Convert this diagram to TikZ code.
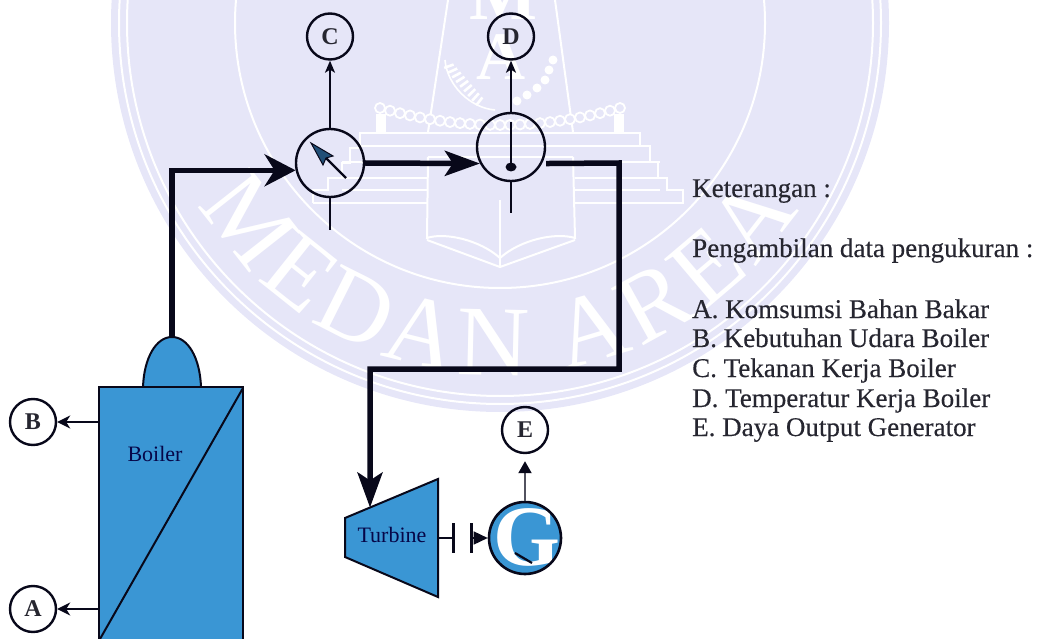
\documentclass[tikz,border=0pt]{standalone}
\usepackage{fontspec}
\setmainfont{Liberation Serif}
\newfontfamily\heavyserif[FakeBold=0.35]{Liberation Serif}
\usetikzlibrary{arrows.meta,calc,decorations.text}
\definecolor{wm}{HTML}{E6E6F8}
\definecolor{blue1}{HTML}{3A96D4}
\definecolor{ink}{HTML}{08081A}
\definecolor{txt}{HTML}{262630}
\newcommand{\fs}[1]{\fontsize{#1}{#1}\selectfont}
\tikzset{
  wmline/.style={draw=white,line width=2pt},
  bead/.style={draw=white,line width=1.8pt,fill=wm},
  pipe/.style={draw=ink,line width=5.5pt,line join=miter},
  pipeheadA/.style={-{Stealth[length=31pt,width=32pt,inset=10pt]}},
  pipeheadB/.style={-{Stealth[length=35pt,width=25pt,inset=8pt]}},
  sig/.style={draw=ink,line width=1.6pt,-{Stealth[length=12pt,width=10pt,inset=3pt]}},
  sigside/.style={draw=ink,line width=1.8pt,-{Stealth[length=13pt,width=13pt,inset=4pt]}},
  stem/.style={draw=ink,line width=2.6pt},
  tag/.style={circle,draw=ink,line width=2.4pt,minimum size=46pt,inner sep=0pt,font=\fs{24}\bfseries,text=txt},
  gauge/.style={circle,draw=ink,line width=2.4pt,minimum size=68pt,inner sep=0pt},
  equip/.style={draw=ink,line width=2pt,fill=blue1},
  eqlabel/.style={font=\fs{22},text=ink!80!blue,inner sep=0pt},
  legend/.style={anchor=base west,font=\heavyserif\fs{27},text=txt,inner sep=0pt},
}
\begin{document}
\begin{tikzpicture}[x=1pt,y=1pt]
\useasboundingbox (0,-639) rectangle (1044,0);
% watermark
\begin{scope}
\clip (0,-639) rectangle (1044,0);
\coordinate (wc) at (500,-23);
\fill[wm] (wc) circle (389pt);
\draw[wmline] (wc) circle (381pt);
\draw[wmline] (wc) circle (373pt);
\draw[wmline] (wc) circle (265pt);
\path[decorate,decoration={text along path,text align={fit to path},
  text={|\color{white}\fs{100}|MEDAN AREA}}]
  (wc) ++(211:352pt) arc[start angle=211,end angle=328,radius=352pt];
\node[text=white,font=\fs{72}\bfseries,inner sep=0pt,anchor=base] (wmM) at (503,-20) {M};
\node[text=white,font=\fs{68}\bfseries,inner sep=0pt,anchor=base] (wmA) at (501,-80) {A};
\draw[wmline] (448,0) -- (428,-132);
\draw[wmline] (555,0) -- (573,-132);
\foreach \i in {-12,...,12}{
  \pgfmathsetmacro{\bx}{500+10*\i}
  \pgfmathsetmacro{\by}{-(108+17*(1-(\i/12)^2))}
  \draw[bead] (\bx,\by) circle (5pt);
}
\fill[white] (376,-114) rectangle (386,-133);
\fill[white] (614,-114) rectangle (624,-133);
\draw[wmline] (313,-203) -- (313,-190) -- (328,-190) -- (328,-178) -- (342,-178) -- (342,-163) -- (350,-163) -- (350,-148) -- (360,-148) -- (360,-133) -- (640,-133) -- (640,-146) -- (650,-146) -- (650,-162) -- (658,-162) -- (658,-178) -- (667,-178) -- (667,-190) -- (683,-190) -- (683,-203) -- (575,-203);
\draw[wmline] (313,-203) -- (428,-203);
\draw[wmline] (360,-146) -- (640,-146);
\foreach \yy in {162,178,190}{
  \draw[wmline] (342,-\yy) -- (428,-\yy);
  \draw[wmline] (575,-\yy) -- (660,-\yy);
}
\draw[wmline] (428,-157) -- (573,-157);
\draw[wmline] (428,-157) -- (427,-238) .. controls (445,-232) and (480,-240) .. (500,-258) .. controls (520,-240) and (555,-232) .. (575,-238) -- (573,-157);
\draw[wmline] (427,-240) -- (500,-267) -- (575,-240);
\draw[wmline] (500,-200) -- (500,-267);
\draw[white,line width=1.6pt] (445,-60) .. controls (447,-85) and (470,-108) .. (495,-110);
\foreach \t/\a in {0.05/-70,0.15/-66,0.25/-62,0.35/-58,0.45/-54,0.55/-50,0.65/-46,0.75/-42,0.85/-38}{
  \draw[white,line width=2.6pt] ($(447,-64)!\t!(485,-108)$) ++(\a+90:5pt) -- ++(\a-90:10pt);
}
\foreach \p/\r in {553/-60,549/-70,545/-80,537/-88,527/-95,517/-101}{
  \fill[white] (\p,\r) circle (4.5pt);
}
\end{scope}
% boiler
\coordinate (domeL) at (143,-387);
\coordinate (domeR) at (201,-387);
\coordinate (domeTop) at (172,-337);
\path[equip] (domeL) .. controls (144,-358) and (156,-337) .. (domeTop) .. controls (188,-337) and (200,-358) .. (domeR) -- cycle;
\node[equip,rectangle,minimum width=144pt,minimum height=256pt,inner sep=0pt] (boiler) at (171,-515) {};
\draw[draw=ink,line width=2pt] (243,-388) -- (100,-639);
\node[eqlabel] (boilerlabel) at (155,-454) {Boiler};
% instruments
\node[gauge] (gC) at (330,-163) {};
\node[gauge] (gD) at (511,-147) {};
\node[tag] (C) at (330,-36.5) {C};
\node[tag] (D) at (511,-36.5) {D};
\node[tag] (E) at (525,-430) {E};
\node[tag] (B) at (33,-422) {B};
\node[tag] (A) at (33,-609) {A};
% needles
\coordinate (nCa) at (346,-178);
\coordinate (nCb) at (311,-143);
\draw[ink,line width=2.4pt] (nCa) -- (325,-157);
\path[draw=ink,line width=1pt,fill=blue1!50!ink] (nCb) -- (333,-156) -- (326,-158) -- (323,-165) -- cycle;
\coordinate (nDa) at (511,-122);
\coordinate (nDb) at (511,-167);
\draw[ink,line width=2.6pt] (nDa) -- (nDb);
\fill[ink] (nDb) ellipse (5.5pt and 4.5pt);
\coordinate (cTail) at (330,-230);
\coordinate (dTail) at (511,-213);
\draw[stem] (gC.south) -- (cTail);
\draw[stem] (gD.south) -- (dTail);
\coordinate (cMid) at (330,-97);
\draw[stem] (gC.north) -- (cMid);
\draw[sig] (cMid) -- (C.south);
\draw[sig] (gD.north) -- (D.south);
% turbine
\coordinate (t1) at (345,-518);
\coordinate (t2) at (438,-479);
\coordinate (t3) at (438,-597);
\coordinate (t4) at (345,-557);
\path[equip] (t1) -- (t2) -- (t3) -- (t4) -- cycle;
\node[eqlabel] (turbinelabel) at (392,-535) {Turbine};
\coordinate (tIn) at (370,-507.5);
% generator
\coordinate (gc) at (525,-538);
\fill[blue1] (gc) circle (36pt);
\begin{scope}
\clip (gc) circle (36pt);
\node[text=white,font=\fs{86}\bfseries,inner sep=0pt] (Gl) at (527,-537) {G};
\draw[ink,line width=2.2pt] (515,-553) -- (532,-563);
\end{scope}
\node[circle,draw=ink,line width=2.6pt,minimum size=72pt,inner sep=0pt] (G) at (gc) {};
\draw[draw=ink!70!white,line width=2pt,shorten >=7pt,-{Stealth[length=12pt,width=13pt,inset=0pt,color=ink]}] (G.north) -- (E.south);
% coupling
\coordinate (s1) at (453,-538);
\coordinate (s2) at (471,-538);
\draw[ink,line width=2pt] (438,-538) -- (s1);
\draw[ink,line width=3pt] ($(s1)+(0,15)$) -- ($(s1)+(0,-15)$);
\draw[ink,line width=3pt] ($(s2)+(0,15)$) -- ($(s2)+(0,-15)$);
\draw[ink,line width=1.5pt,-{Stealth[length=14pt,width=13pt,inset=0pt]}] (s2) -- (G.west);
% boiler signals
\draw[sigside] (boiler.west |- B) -- (B.east);
\draw[sigside] (boiler.west |- A) -- (A.east);
% pipes
\coordinate (p1) at (619,-163);
\coordinate (p2) at (619,-369);
\coordinate (p3) at (370,-369);
\draw[pipe,pipeheadA] (domeTop) |- (gC.192);
\draw[pipe,pipeheadB] (gC.0) -- (gD.208);
\draw[pipe,pipeheadB] ($(gD.332)+(4,0)$) -- (p1) -- (p2) -- (p3) -- (tIn);
% legend
\node[legend] (k) at (692,-197) {Keterangan :};
\node[legend] (p) at (692,-257) {Pengambilan data pengukuran :};
\node[legend] (la) at (692,-318) {A. Komsumsi Bahan Bakar};
\node[legend] (lb) at (692,-347) {B. Kebutuhan Udara Boiler};
\node[legend] (lc) at (692,-377) {C. Tekanan Kerja Boiler};
\node[legend] (ld) at (692,-407) {D. Temperatur Kerja Boiler};
\node[legend] (le) at (692,-436) {E. Daya Output Generator};
\end{tikzpicture}
\end{document}
